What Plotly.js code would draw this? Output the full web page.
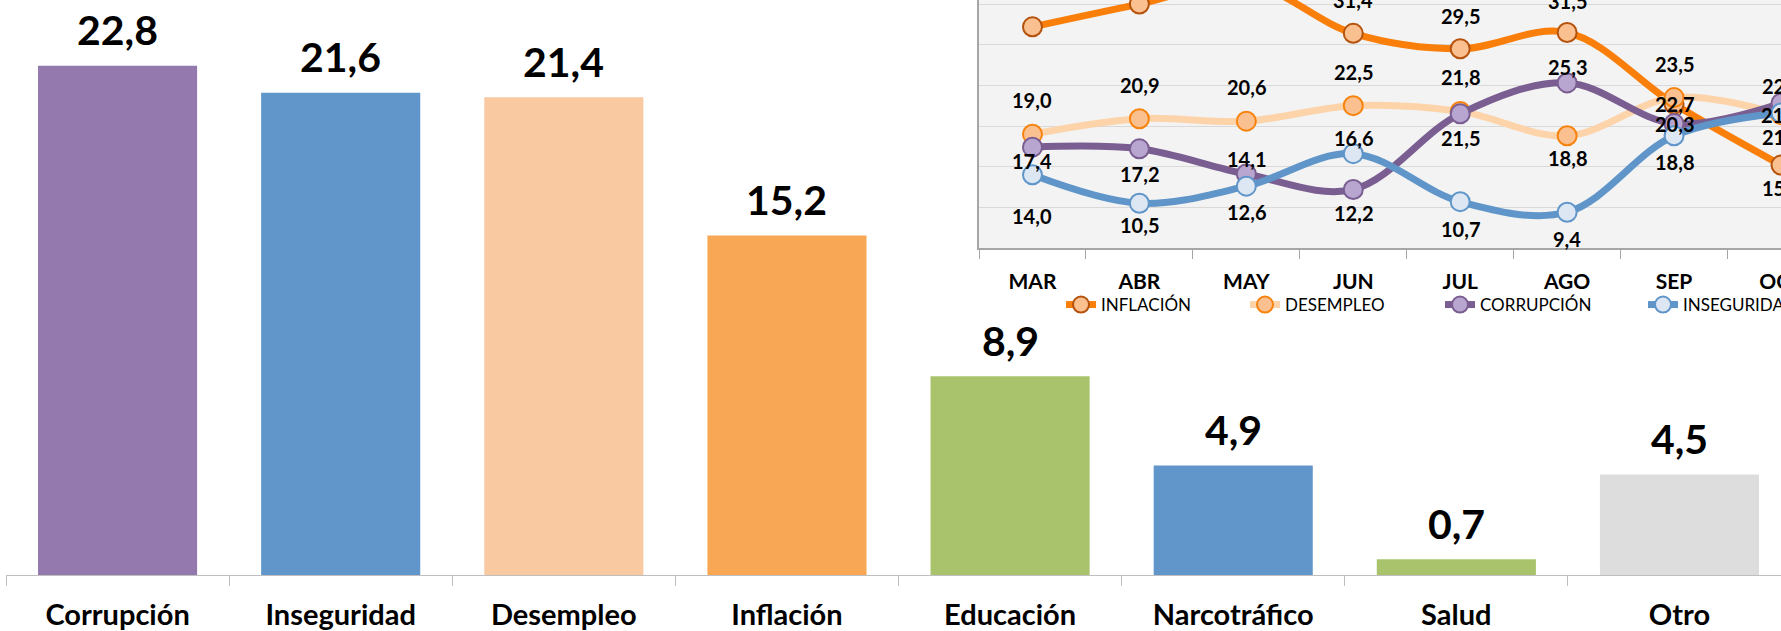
<!DOCTYPE html>
<html>
<head>
<meta charset="utf-8">
<script src="https://cdn.plot.ly/plotly-3.0.1.min.js"></script>
<style>html,body{margin:0;padding:0;background:#fff;}#chart{width:1781px;height:631px;}</style>
</head>
<body>
<div id="chart"></div>
<script>
// ---- Main bar chart data ----
const categories = ['Corrupción','Inseguridad','Desempleo','Inflación','Educación','Narcotráfico','Salud','Otro'];
const categoryValues = [22.8, 21.6, 21.4, 15.2, 8.9, 4.9, 0.7, 4.5];
const barColors = ['#9479ae','#6096c9','#f9c9a1','#f8a855','#a9c36c','#6096c9','#a9c36c','#dddddd'];

// ---- Inset line chart data ----
const months = ['MAR','ABR','MAY','JUN','JUL','AGO','SEP','OCT'];
const inflacion   = [32.2, 35.0, 37.6, 31.4, 29.5, 31.5, 22.7, 15.2];
const desempleo   = [19.0, 20.9, 20.6, 22.5, 21.8, 18.8, 23.5, 21.4];
const corrupcion  = [17.4, 17.2, 14.1, 12.2, 21.5, 25.3, 20.3, 22.8];
const inseguridad = [14.0, 10.5, 12.6, 16.6, 10.7,  9.4, 18.8, 21.6];
const seriesNames = ['INFLACIÓN','DESEMPLEO','CORRUPCIÓN','INSEGURIDAD'];

// label offsets (px, positive = up) - styling only
const labelShift = [
  [40,33,33,33,33,32,0,-23],
  [34,34,34,34,34,-22,34,0],
  [-14,-25,15,-24,-24,16,0,17],
  [-41,-22,-26,16,-27,-27,-26,-24]
];

const FONT = 'Lato, "Open Sans", Arial, sans-serif';
const fmt = v => v.toFixed(1).replace('.', ',');

const W = 1781, H = 631;
const mL = 6, mR = 0, mT = 0, mB = 56;
const pw = W - mL - mR, ph = H - mT - mB;
const insetLeft = 979, insetBottom = 248;

const styles = [
  {line:'#fa7f0a', fill:'#fac090', edge:'#b5520c'},
  {line:'#fdd4aa', fill:'#fac090', edge:'#f7830f'},
  {line:'#7a5e91', fill:'#b8a6d0', edge:'#7a5e91'},
  {line:'#5f95c9', fill:'#dde7f3', edge:'#5f95c9'}
];
const seriesData = [inflacion, desempleo, corrupcion, inseguridad];

const traces = [{
  type:'bar', x: categories, y: categoryValues, xaxis:'x', yaxis:'y',
  marker:{color: barColors, line:{width:0}}, showlegend:false, hoverinfo:'skip'
}];

const legendX = [1061, 1245, 1440, 1643];
const legendKeys = ['legend','legend2','legend3','legend4'];
seriesData.forEach((d, i) => {
  traces.push({
    type:'scatter', mode:'lines+markers', x: months, y: d, xaxis:'x2', yaxis:'y2',
    name: seriesNames[i], legend: legendKeys[i],
    line:{color: styles[i].line, width:7, shape:'spline', smoothing:1},
    marker:{size:19, color: styles[i].fill, line:{color: styles[i].edge, width:2}},
    hoverinfo:'skip'
  });
});

const annotations = [];
categories.forEach((c, i) => {
  annotations.push({
    xref:'x', yref:'y', x: c, y: categoryValues[i], text: fmt(categoryValues[i]),
    showarrow:false, yanchor:'middle', yshift:36,
    font:{family:FONT, size:41, color:'#000', weight:'bold'}
  });
});
seriesData.forEach((d, s) => {
  d.forEach((v, i) => {
    annotations.push({
      xref:'x2', yref:'y2', x: months[i], y: v, text: fmt(v),
      showarrow:false, yanchor:'middle', yshift: labelShift[s][i],
      font:{family:FONT, size:20, color:'#000', weight:'bold'}
    });
  });
});

const layout = {
  width: W, height: H,
  margin:{l:mL, r:mR, t:mT, b:mB, pad:0, autoexpand:false},
  paper_bgcolor:'#ffffff', plot_bgcolor:'rgba(0,0,0,0)',
  bargap: 0.287,
  font:{family:FONT, color:'#000'},
  xaxis:{
    type:'category', categoryorder:'array', categoryarray: categories,
    range:[-0.5, 7.455], domain:[0,1],
    showline:true, linecolor:'#bfbfbf', linewidth:1,
    ticks:'outside', tickson:'boundaries', ticklen:10, tickcolor:'#bfbfbf', tickwidth:1,
    showgrid:false, zeroline:false, ticklabelstandoff:14,
    tickfont:{family:FONT, size:29, color:'#000', weight:'bold'}
  },
  yaxis:{range:[0, 25.75], visible:false, showgrid:false, zeroline:false},
  xaxis2:{
    type:'category', categoryorder:'array', categoryarray: months,
    anchor:'y2', domain:[(insetLeft - mL)/pw, 1], range:[-0.5, 7],
    showline:true, linecolor:'#a6a6a6', linewidth:2,
    ticks:'outside', tickson:'boundaries', ticklen:9, tickcolor:'#a6a6a6', tickwidth:1,
    showgrid:false, zeroline:false, ticklabelstandoff:14,
    tickfont:{family:FONT, size:21, color:'#000', weight:'bold'}
  },
  yaxis2:{
    anchor:'x2', domain:[(ph - insetBottom)/ph, 1], range:[5, 35.5],
    tick0:0, dtick:5, showgrid:true, gridcolor:'#d9d9d9', gridwidth:1,
    showticklabels:false, ticks:'', zeroline:false,
    showline:true, linecolor:'#a6a6a6', linewidth:2
  },
  shapes:[{
    type:'rect', xref:'x2 domain', yref:'y2 domain', x0:0, x1:1, y0:0, y1:1,
    fillcolor:'#f3f3f3', line:{width:0}, layer:'below'
  }],
  annotations: annotations
};
legendKeys.forEach((k, i) => {
  layout[k] = {
    x: (legendX[i] - mL)/pw, xanchor:'left', y: (ph - 305)/ph, yanchor:'middle',
    orientation:'h', bgcolor:'rgba(0,0,0,0)', borderwidth:0,
    font:{family:FONT, size:17, color:'#000'}
  };
});

Plotly.newPlot('chart', traces, layout, {staticPlot:true, displayModeBar:false});
</script>
</body>
</html>
